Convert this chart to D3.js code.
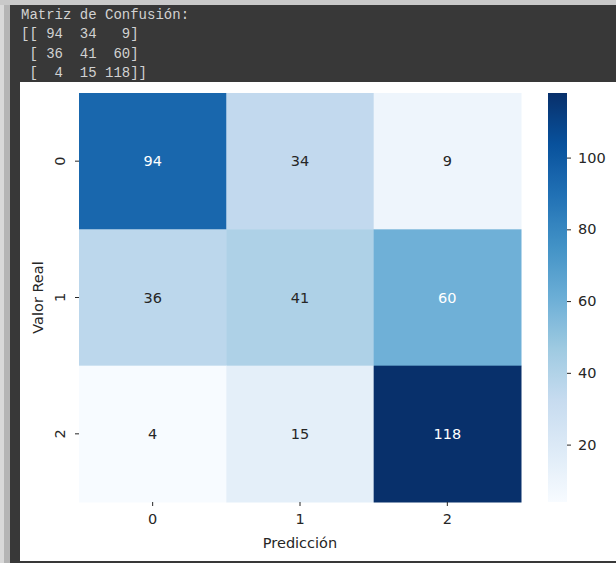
<!DOCTYPE html>
<html>
<head>
<meta charset="utf-8">
<script src="https://cdn.jsdelivr.net/npm/d3@7"></script>
<style>
  html, body { margin: 0; padding: 0; background: #c9c9c9; }
  svg { display: block; }
</style>
</head>
<body>
<svg id="chart" width="616" height="563"></svg>
<script>
// Class labels and confusion-matrix counts (rows: true class, columns: predicted class)
const classes = ["0", "1", "2"];
const row0 = [94, 34, 9];
const row1 = [36, 41, 60];
const row2 = [4, 15, 118];
const matrix = [row0, row1, row2];
const colorbarTicks = [20, 40, 60, 80, 100];
const headerTitle = "Matriz de Confusión:";
const xTitle = "Predicción";
const yTitle = "Valor Real";

const W = 616, H = 563;
const svg = d3.select("#chart");

// ---- notebook output frame ----
svg.append("rect").attr("x", 0).attr("y", 0).attr("width", W).attr("height", H).attr("fill", "#c9c9c9");
svg.append("rect").attr("x", 0).attr("y", 5).attr("width", 4).attr("height", H - 5).attr("fill", "#d9d9d9");
svg.append("rect").attr("x", 4).attr("y", 5).attr("width", 6).attr("height", H - 5).attr("fill", "#b5b5b5");
svg.append("rect").attr("x", 10).attr("y", 5).attr("width", W - 10).attr("height", H - 5).attr("fill", "#383838");

// printed matrix, formatted like numpy's repr
const allVals = matrix.flat();
const cellWidth = String(d3.max(allVals)).length;
const pad = v => String(v).padStart(cellWidth, " ");
const printed = [headerTitle].concat(matrix.map((r, i) => {
  const open = i === 0 ? "[[" : " [";
  const close = i === matrix.length - 1 ? "]]" : "]";
  return open + r.map(pad).join(" ") + close;
}));
svg.append("g")
  .selectAll("text")
  .data(printed)
  .join("text")
  .attr("x", 21)
  .attr("y", (d, i) => 19 + i * 19.3)
  .attr("fill", "#d2d2d2")
  .attr("font-family", "'Liberation Mono', 'DejaVu Sans Mono', monospace")
  .attr("font-size", 14)
  .attr("xml:space", "preserve")
  .style("white-space", "pre")
  .text(d => d);

// white figure canvas
svg.append("rect").attr("x", 20).attr("y", 82).attr("width", W - 20).attr("height", 479).attr("fill", "#ffffff");

// ---- heatmap ----
const hmLeft = 79, hmRight = 521, hmTop = 93, hmBottom = 502;
const x = d3.scaleBand().domain(classes).range([hmLeft, hmRight]);
const y = d3.scaleBand().domain(classes).range([hmTop, hmBottom]);

const vmin = d3.min(allVals), vmax = d3.max(allVals);
const blues = d3.piecewise(d3.interpolateRgb, d3.schemeBlues[9]);
const color = d3.scaleSequential(blues).domain([vmin, vmax]);

const cells = [];
matrix.forEach((r, i) => r.forEach((v, j) => cells.push({ row: classes[i], col: classes[j], v })));

const font = "'DejaVu Sans', sans-serif";
const fs = 14.5;
const ink = "#262626";

svg.append("g")
  .selectAll("rect")
  .data(cells)
  .join("rect")
  .attr("x", d => x(d.col))
  .attr("y", d => y(d.row))
  .attr("width", x.bandwidth() + 0.5)
  .attr("height", y.bandwidth() + 0.5)
  .attr("fill", d => color(d.v));

function luminance(c) {
  const rgb = d3.rgb(c);
  const lin = u => { u /= 255; return u <= 0.03928 ? u / 12.92 : Math.pow((u + 0.055) / 1.055, 2.4); };
  return 0.2126 * lin(rgb.r) + 0.7152 * lin(rgb.g) + 0.0722 * lin(rgb.b);
}

svg.append("g")
  .selectAll("text")
  .data(cells)
  .join("text")
  .attr("x", d => x(d.col) + x.bandwidth() / 2)
  .attr("y", d => y(d.row) + y.bandwidth() / 2)
  .attr("text-anchor", "middle")
  .attr("dominant-baseline", "central")
  .attr("font-family", font)
  .attr("font-size", fs)
  .attr("fill", d => luminance(color(d.v)) > 0.408 ? ink : "#ffffff")
  .text(d => d.v);

// x axis
const xAxis = svg.append("g")
  .attr("transform", `translate(0,${hmBottom})`)
  .call(d3.axisBottom(x).tickSize(4).tickPadding(8).tickSizeOuter(0));
xAxis.select(".domain").remove();
xAxis.selectAll("line").attr("stroke", ink).attr("stroke-width", 1);
xAxis.selectAll("text").attr("font-family", font).attr("font-size", fs).attr("fill", ink);

// y axis with rotated labels
const yAxis = svg.append("g")
  .attr("transform", `translate(${hmLeft},0)`)
  .call(d3.axisLeft(y).tickSize(4).tickSizeOuter(0));
yAxis.select(".domain").remove();
yAxis.selectAll("line").attr("stroke", ink).attr("stroke-width", 1);
yAxis.selectAll("text")
  .attr("x", null).attr("dy", null)
  .attr("text-anchor", "middle")
  .attr("transform", "translate(-14,0) rotate(-90)")
  .attr("font-family", font).attr("font-size", fs).attr("fill", ink);

// axis titles
svg.append("text")
  .attr("x", (hmLeft + hmRight) / 2).attr("y", 548)
  .attr("text-anchor", "middle")
  .attr("font-family", font).attr("font-size", fs).attr("fill", ink)
  .text(xTitle);
svg.append("text")
  .attr("transform", `translate(43,${(hmTop + hmBottom) / 2}) rotate(-90)`)
  .attr("text-anchor", "middle")
  .attr("font-family", font).attr("font-size", fs).attr("fill", ink)
  .text(yTitle);

// ---- colorbar ----
const cbX = 548, cbW = 19;
const cb = d3.scaleLinear().domain([vmin, vmax]).range([hmBottom, hmTop]);
const defs = svg.append("defs");
const grad = defs.append("linearGradient").attr("id", "cbGrad")
  .attr("x1", 0).attr("y1", 1).attr("x2", 0).attr("y2", 0);
grad.selectAll("stop")
  .data(d3.range(0, 1.0001, 1 / 32))
  .join("stop")
  .attr("offset", d => d)
  .attr("stop-color", d => color(vmin + d * (vmax - vmin)));
svg.append("rect")
  .attr("x", cbX).attr("y", hmTop)
  .attr("width", cbW).attr("height", hmBottom - hmTop)
  .attr("fill", "url(#cbGrad)");

const cbAxis = svg.append("g")
  .attr("transform", `translate(${cbX + cbW},0)`)
  .call(d3.axisRight(cb).tickValues(colorbarTicks).tickSize(4).tickPadding(7).tickSizeOuter(0));
cbAxis.select(".domain").remove();
cbAxis.selectAll("line").attr("stroke", ink).attr("stroke-width", 1);
cbAxis.selectAll("text").attr("font-family", font).attr("font-size", fs).attr("fill", ink);
</script>
</body>
</html>
